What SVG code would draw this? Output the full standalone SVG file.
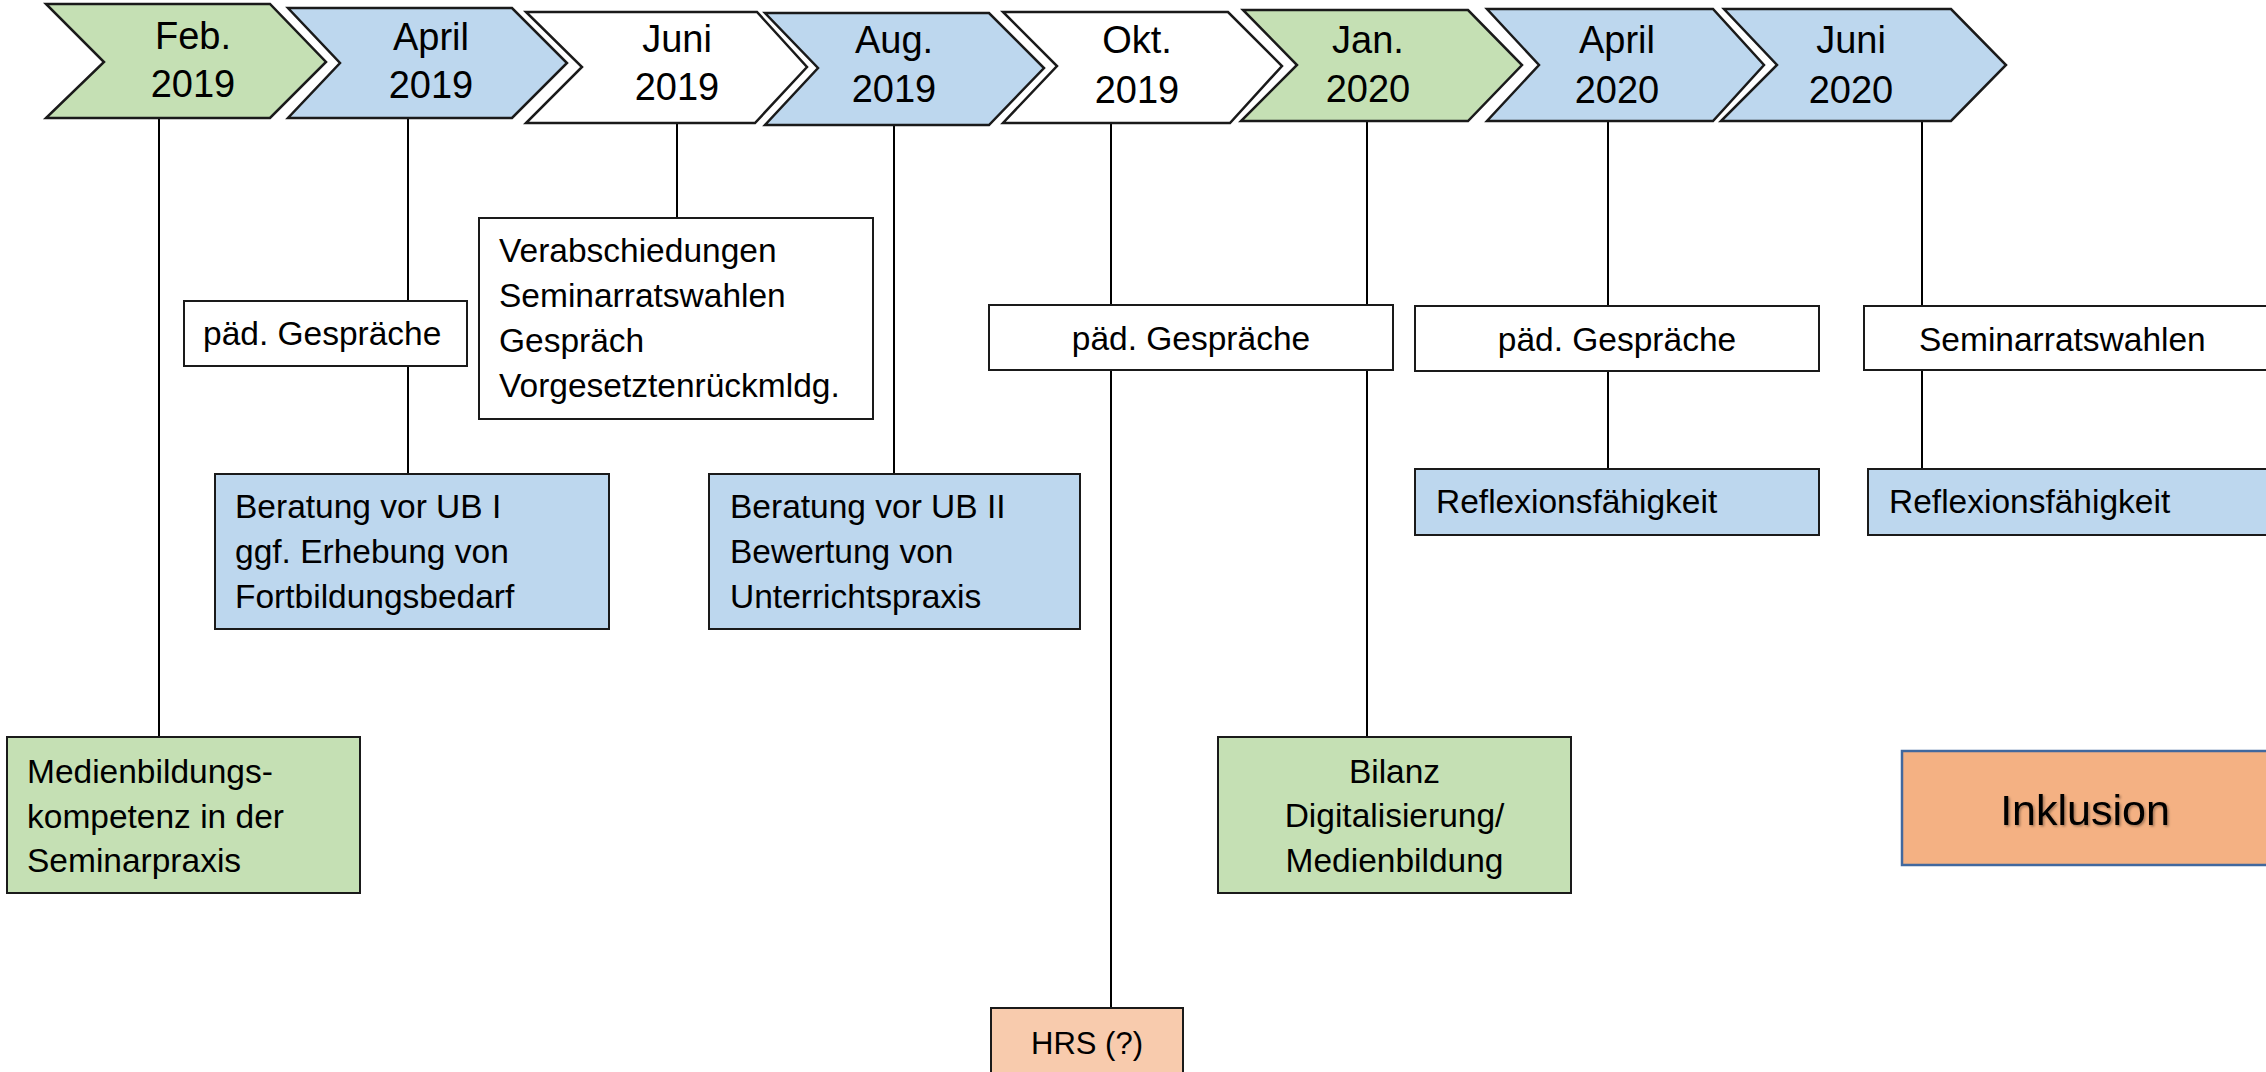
<svg xmlns="http://www.w3.org/2000/svg" width="2266" height="1072" viewBox="0 0 2266 1072">
<defs>
<style>
.chev{stroke:#1a1a1a;stroke-width:2.5;stroke-linejoin:miter}
.box{stroke:#1a1a1a;stroke-width:2}
.g{fill:#C5E0B4}.b{fill:#BDD7EE}.w{fill:#FFFFFF}.o{fill:#F8CBAD}.o2{fill:#F4B183}
.ct{font-family:"Liberation Sans",Arial,sans-serif;font-size:38px;fill:#000;text-anchor:middle}
.t{font-family:"Liberation Sans",Arial,sans-serif;font-size:33.5px;fill:#000}
.m{text-anchor:middle}
.line{stroke:#000;stroke-width:2;fill:none}
</style>
<filter id="ts" x="-10%" y="-10%" width="130%" height="140%">
<feDropShadow dx="1.5" dy="1.5" stdDeviation="1" flood-color="#000" flood-opacity="0.35"/>
</filter>
</defs>
<rect width="2266" height="1072" fill="#FFFFFF"/>
<g id="connectors">
<line class="line" x1="159" y1="118" x2="159" y2="737"/>
<line class="line" x1="408" y1="118" x2="408" y2="474"/>
<line class="line" x1="677" y1="123" x2="677" y2="218"/>
<line class="line" x1="894" y1="125" x2="894" y2="474"/>
<line class="line" x1="1111" y1="123" x2="1111" y2="1008"/>
<line class="line" x1="1367" y1="121" x2="1367" y2="737"/>
<line class="line" x1="1608" y1="121" x2="1608" y2="469"/>
<line class="line" x1="1922" y1="121" x2="1922" y2="469"/>
</g>
<g id="chevron-feb-2019">
<polygon class="chev g" points="46,4 270,4 326,62 270,118 46,118 104,62"/>
<text class="ct" x="193" y="49">Feb.</text><text class="ct" x="193" y="97">2019</text>
</g>
<g id="chevron-apr-2019">
<polygon class="chev b" points="288,8 512,8 567,63 512,118 288,118 340,63"/>
<text class="ct" x="431" y="50">April</text><text class="ct" x="431" y="98">2019</text>
</g>
<g id="chevron-jun-2019">
<polygon class="chev w" points="526,12 757,12 807,67 755,123 526,123 582,67"/>
<text class="ct" x="677" y="52">Juni</text><text class="ct" x="677" y="100">2019</text>
</g>
<g id="chevron-aug-2019">
<polygon class="chev b" points="765,13 989,13 1044,68 989,125 765,125 818,68"/>
<text class="ct" x="894" y="53">Aug.</text><text class="ct" x="894" y="102">2019</text>
</g>
<g id="chevron-okt-2019">
<polygon class="chev w" points="1003,12 1228,12 1282,66 1230,123 1003,123 1057,66"/>
<text class="ct" x="1137" y="53">Okt.</text><text class="ct" x="1137" y="103">2019</text>
</g>
<g id="chevron-jan-2020">
<polygon class="chev g" points="1243,10 1468,10 1522,65 1468,121 1241,121 1297,65"/>
<text class="ct" x="1368" y="53">Jan.</text><text class="ct" x="1368" y="102">2020</text>
</g>
<g id="chevron-apr-2020">
<polygon class="chev b" points="1487,9 1713,9 1764,65 1713,121 1487,121 1539,65"/>
<text class="ct" x="1617" y="53">April</text><text class="ct" x="1617" y="103">2020</text>
</g>
<g id="chevron-jun-2020">
<polygon class="chev b" points="1724,9 1951,9 2006,65 1951,121 1721,121 1777,65"/>
<text class="ct" x="1851" y="53">Juni</text><text class="ct" x="1851" y="103">2020</text>
</g>
<g id="box-paed-apr-2019">
<rect class="box w" x="184" y="301" width="283" height="65"/>
<text class="t" x="203" y="345">päd. Gespräche</text>
</g>
<g id="box-juni-2019">
<rect class="box w" x="479" y="218" width="394" height="201"/>
<text class="t" x="499" y="262">Verabschiedungen</text>
<text class="t" x="499" y="307">Seminarratswahlen</text>
<text class="t" x="499" y="352">Gespräch</text>
<text class="t" x="499" y="397">Vorgesetztenrückmldg.</text>
</g>
<g id="box-ub1">
<rect class="box b" x="215" y="474" width="394" height="155"/>
<text class="t" x="235" y="518">Beratung vor UB I</text>
<text class="t" x="235" y="563">ggf. Erhebung von</text>
<text class="t" x="235" y="608">Fortbildungsbedarf</text>
</g>
<g id="box-ub2">
<rect class="box b" x="709" y="474" width="371" height="155"/>
<text class="t" x="730" y="518">Beratung vor UB II</text>
<text class="t" x="730" y="563">Bewertung von</text>
<text class="t" x="730" y="608">Unterrichtspraxis</text>
</g>
<g id="box-paed-okt-2019">
<rect class="box w" x="989" y="305" width="404" height="65"/>
<text class="t m" x="1191" y="350">päd. Gespräche</text>
</g>
<g id="box-paed-apr-2020">
<rect class="box w" x="1415" y="306" width="404" height="65"/>
<text class="t m" x="1617" y="351">päd. Gespräche</text>
</g>
<g id="box-seminarrat-2020">
<rect class="box w" x="1864" y="306" width="420" height="64"/>
<text class="t" x="1919" y="351">Seminarratswahlen</text>
</g>
<g id="box-reflexion-apr-2020">
<rect class="box b" x="1415" y="469" width="404" height="66"/>
<text class="t" x="1436" y="513">Reflexionsfähigkeit</text>
</g>
<g id="box-reflexion-jun-2020">
<rect class="box b" x="1868" y="469" width="420" height="66"/>
<text class="t" x="1889" y="513">Reflexionsfähigkeit</text>
</g>
<g id="box-medienbildung">
<rect class="box g" x="7" y="737" width="353" height="156"/>
<text class="t" x="27" y="783">Medienbildungs-</text>
<text class="t" x="27" y="828">kompetenz in der</text>
<text class="t" x="27" y="872">Seminarpraxis</text>
</g>
<g id="box-bilanz">
<rect class="box g" x="1218" y="737" width="353" height="156"/>
<text class="t m" x="1394.5" y="783">Bilanz</text>
<text class="t m" x="1394.5" y="827">Digitalisierung/</text>
<text class="t m" x="1394.5" y="872">Medienbildung</text>
</g>
<g id="box-hrs">
<rect class="box o" x="991" y="1008" width="192" height="80"/>
<text class="t m" x="1087" y="1054" style="font-size:31px">HRS (?)</text>
</g>
<g id="box-inklusion">
<rect x="1902" y="751" width="380" height="114" fill="#F4B183" stroke="#41689E" stroke-width="2.5"/>
<text class="t m" x="2085" y="825" style="font-size:43px" filter="url(#ts)">Inklusion</text>
</g>
</svg>
